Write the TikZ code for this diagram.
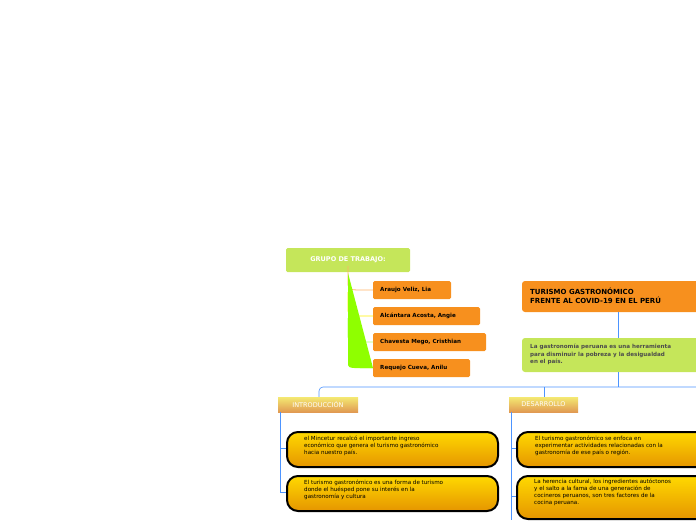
\documentclass[tikz,border=0pt]{standalone}
\usepackage{fontspec}
\setmainfont{DejaVu Sans}
\begin{document}
\begin{tikzpicture}[x=1pt,y=-1pt,
  green/.style={fill=lime!60!green!80!yellow,draw=none,rounded corners=2pt},
  orangebox/.style={fill=orange!90!red!60!yellow,draw=none,rounded corners=2pt,font=\bfseries\fontsize{6}{7}\selectfont,anchor=north west,inner sep=0pt,text depth=0pt},
  tan/.style={draw=none,top color=brown!30!yellow!60,bottom color=brown!60!orange!80,font=\fontsize{6.5}{7}\selectfont,text=white,anchor=north west,inner sep=0pt},
  bubble/.style={draw=black,line width=2pt,rounded corners=11pt,top color=yellow!70!orange,bottom color=orange!70!yellow!90!black,anchor=north west,inner sep=0pt},
  btext/.style={font=\fontsize{5.6}{7}\selectfont,align=left,anchor=north west,inner sep=0pt},
  blueline/.style={draw=blue!60!cyan!70,line width=0.6pt}]
\useasboundingbox (0,0) rectangle (696,520);
\clip (0,0) rectangle (696,520);
\definecolor{lg}{HTML}{C5E65A}
\definecolor{og}{HTML}{F7901E}
% group
\fill[lg,rounded corners=1.5pt] (286,248) rectangle (410,272);
\node (g) at (348,260) {\textcolor{white}{\bfseries\fontsize{6.5}{7}\selectfont GRUPO DE TRABAJO:}};
\foreach \n/\y/\w/\t/\c in {a/281/78/Araujo Veliz{,} Lia/orange!60,b/307/107/Alcántara Acosta{,} Angie/yellow,c/333/113/Chavesta Mego{,} Cristhian/green!50!yellow!60,d/359/97/Requejo Cueva{,} Anilu/green}{
  \fill[og,rounded corners=1.5pt] (373,\y) rectangle ++(\w,18);
  \node[font=\bfseries\fontsize{5.6}{7}\selectfont,anchor=west,inner sep=0pt] (\n) at (380,\y+9) {\t};
  \draw[\c,line width=0.8pt] (348,\y-15) -- (348,\y+4) to[out=-90,in=180] (362,\y+9) -- (373,\y+9);
}
\draw[green,line width=1.6pt] (348,273) -- (348,355) to[out=-90,in=180] (362,368) -- (373,368);
% title
\fill[og,rounded corners=3pt] (522,281) rectangle (710,312);
\node[anchor=north west,align=left,inner sep=0pt,font=\bfseries\fontsize{7}{9}\selectfont] (t) at (530,288) {TURISMO GASTRONÓMICO\\FRENTE AL COVID-19 EN EL PERÚ};
\fill[lg,rounded corners=3pt] (522,338) rectangle (710,372);
\node[anchor=north west,align=left,inner sep=0pt,font=\bfseries\fontsize{5.6}{7.5}\selectfont,text=black!70] (s) at (530,344) {La gastronomía peruana es una herramienta\\para disminuir la pobreza y la desigualdad\\en el país.};
\draw[blueline] (618,312) -- (618,338) (618,372) -- (618,387);
\draw[blueline,rounded corners=4pt] (319,397) -- (319,387) -- (700,387);
\draw[blueline,rounded corners=4pt] (544,397) -- (544,387);
% section headers
\node[tan,minimum width=80pt,minimum height=15pt] (i) at (278,397) {};
\node[font=\fontsize{6.5}{7}\selectfont,text=white] at (318,404.5) {INTRODUCCIÓN};
\node[tan,minimum width=69pt,minimum height=15pt] (dv) at (509,397) {};
\node[font=\fontsize{6.5}{7}\selectfont,text=white] at (543.5,404.5) {DESARROLLO};
% left bubbles
\draw[blueline] (280,412) -- (280,492) -- (286,492) (280,448) -- (286,448);
\node[bubble,minimum width=211pt,minimum height=35pt] (b1) at (286,431) {};
\node[btext] at (304,436) {el Mincetur recalcó el importante ingreso\\económico que genera el turismo gastronómico\\hacia nuestro país.};
\node[bubble,minimum width=211pt,minimum height=35pt] (b2) at (286,475) {};
\node[btext] at (304,480) {El turismo gastronómico es una forma de turismo\\donde el huésped pone su interés en la\\gastronomía y cultura};
% right bubbles
\draw[blueline] (511,412) -- (511,520) (511,448) -- (516,448) (511,496) -- (516,496);
\node[bubble,minimum width=200pt,minimum height=35pt] (b3) at (516,431) {};
\node[btext] at (535,436) {El turismo gastronómico se enfoca en\\experimentar actividades relacionadas con la\\gastronomía de ese país o región.};
\node[bubble,minimum width=200pt,minimum height=43pt] (b4) at (516,475) {};
\node[btext] at (534,479) {La herencia cultural, los ingredientes autóctonos\\y el salto a la fama de una generación de\\cocineros peruanos, son tres factores de la\\cocina peruana.};
\end{tikzpicture}
\end{document}
